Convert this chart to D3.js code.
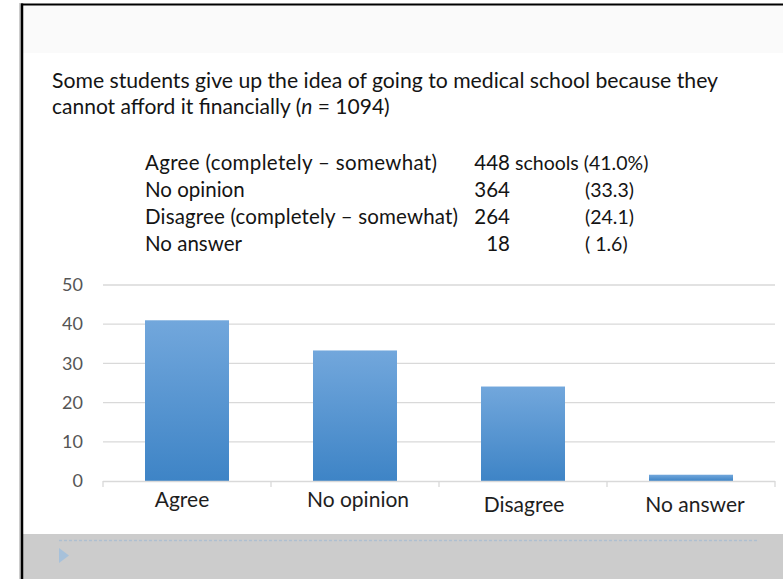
<!DOCTYPE html>
<html>
<head>
<meta charset="utf-8">
<script src="https://cdn.jsdelivr.net/npm/d3@7/dist/d3.min.js"></script>
<style>
  html, body { margin: 0; padding: 0; background: #fff; }
  svg { display: block; }
  text { font-family: "Lato", "Open Sans", sans-serif; }
</style>
</head>
<body>
<svg id="chart" width="783" height="579"></svg>
<script>
// Survey responses (n = 1094 schools)
const categories = ["Agree", "No opinion", "Disagree", "No answer"];
const percents = [41.0, 33.3, 24.1, 1.6];
const counts = [448, 364, 264, 18];
const tableLabels = [
  "Agree (completely \u2013 somewhat)",
  "No opinion",
  "Disagree (completely \u2013 somewhat)",
  "No answer"
];
const tablePercents = ["(41.0%)", "(33.3)", "(24.1)", "(\u00a01.6)"];
const yTicks = [0, 10, 20, 30, 40, 50];
const titleLines = [
  "Some students give up the idea of going to medical school because they",
  "cannot afford it financially ("
];

const W = 783, H = 579;
const svg = d3.select("#chart");

// Slide frame
svg.append("rect").attr("x", 0).attr("y", 0).attr("width", W).attr("height", H).attr("fill", "#ffffff");
svg.append("rect").attr("x", 22).attr("y", 5).attr("width", W - 22).attr("height", 48).attr("fill", "#fafafa");
svg.append("rect").attr("x", 22).attr("y", 534).attr("width", W - 22).attr("height", H - 534).attr("fill", "#cccccc");
svg.append("line").attr("x1", 59).attr("x2", 757).attr("y1", 540.5).attr("y2", 540.5)
  .attr("stroke", "#aebfd0").attr("stroke-width", 1.5).attr("stroke-dasharray", "3,2");
svg.append("path").attr("d", "M59,548 L69,555.5 L59,563 Z").attr("fill", "#a7c1da");
svg.append("line").attr("x1", 20).attr("x2", 20).attr("y1", 3).attr("y2", H).attr("stroke", "#9a9a9a").attr("stroke-width", 1);
svg.append("line").attr("x1", 22).attr("x2", 22).attr("y1", 3.5).attr("y2", H).attr("stroke", "#000").attr("stroke-width", 2.5);
svg.append("line").attr("x1", 21).attr("x2", W).attr("y1", 4.5).attr("y2", 4.5).attr("stroke", "#000").attr("stroke-width", 2.2);

// Title
const title = svg.append("g").attr("fill", "#141414").attr("font-size", 21);
title.append("text").attr("x", 52).attr("y", 88).text(titleLines[0])
  .attr("textLength", 666).attr("lengthAdjust", "spacingAndGlyphs");
const t2 = title.append("text").attr("x", 52).attr("y", 114);
t2.append("tspan").text(titleLines[1]);
t2.append("tspan").attr("font-style", "italic").text("n");
t2.append("tspan").text(" = " + d3.sum(counts) + ")");

// Summary table
const table = svg.append("g").attr("fill", "#141414").attr("font-size", 20.5);
const rowY = d3.scaleLinear().domain([0, 1]).range([170, 197]);
tableLabels.forEach((lab, i) => {
  table.append("text").attr("x", 145).attr("y", rowY(i)).text(lab)
    .attr("textLength", i === 0 ? 292 : i === 2 ? 313 : null);
  table.append("text").attr("x", 510).attr("y", rowY(i)).attr("text-anchor", "end").text(counts[i]);
  if (i === 0) {
    table.append("text").attr("x", 515).attr("y", rowY(i)).attr("font-size", 19.5)
      .text("schools " + tablePercents[i]);
  } else {
    table.append("text").attr("x", 585).attr("y", rowY(i)).attr("font-size", 19.5).text(tablePercents[i]);
  }
});

// Bar chart
const x = d3.scaleBand().domain(categories).range([103, 775]).paddingInner(0.5).paddingOuter(0.25);
const y = d3.scaleLinear().domain([0, 50]).range([481, 285]);

const defs = svg.append("defs");
const grad = defs.append("linearGradient").attr("id", "barGrad").attr("x1", 0).attr("x2", 0).attr("y1", 0).attr("y2", 1);
grad.append("stop").attr("offset", "0%").attr("stop-color", "#72a7dc");
grad.append("stop").attr("offset", "100%").attr("stop-color", "#3e84c6");

// Gridlines
svg.append("g").selectAll("line").data(yTicks.filter(d => d > 0)).join("line")
  .attr("x1", 103).attr("x2", 775).attr("y1", d => y(d)).attr("y2", d => y(d))
  .attr("stroke", "#d9d9d9").attr("stroke-width", 1.3);

// Y axis labels
const yAxis = svg.append("g").attr("transform", "translate(83,0)")
  .call(d3.axisLeft(y).tickValues(yTicks).tickSize(0).tickPadding(0));
yAxis.select(".domain").remove();
yAxis.selectAll("text").attr("font-size", 18).attr("fill", "#555555").attr("font-family", "Lato, sans-serif");

// Bars
svg.append("g").selectAll("rect").data(categories).join("rect")
  .attr("x", d => x(d)).attr("width", x.bandwidth())
  .attr("y", (d, i) => y(percents[i])).attr("height", (d, i) => y(0) - y(percents[i]))
  .attr("fill", "url(#barGrad)");

// Category axis with boundary ticks
const edges = categories.map(c => x(c) - x.step() * x.paddingInner() / 2);
edges.push(775);
svg.append("line").attr("x1", 103).attr("x2", 775).attr("y1", y(0) + 0.5).attr("y2", y(0) + 0.5)
  .attr("stroke", "#d9d9d9").attr("stroke-width", 1.3);
svg.append("g").selectAll("line").data(edges).join("line")
  .attr("x1", d => d).attr("x2", d => d).attr("y1", y(0)).attr("y2", y(0) + 6)
  .attr("stroke", "#d9d9d9").attr("stroke-width", 1.3);

const labelDrop = [0, 0, 5, 5];
const labelNudge = [-5, 3, 1, 4];
svg.append("g").selectAll("text").data(categories).join("text")
  .attr("x", (d, i) => x(d) + x.bandwidth() / 2 + labelNudge[i])
  .attr("y", (d, i) => 507 + labelDrop[i])
  .attr("text-anchor", "middle").attr("font-size", 21).attr("fill", "#1e1e1e")
  .text(d => d);
</script>
</body>
</html>
